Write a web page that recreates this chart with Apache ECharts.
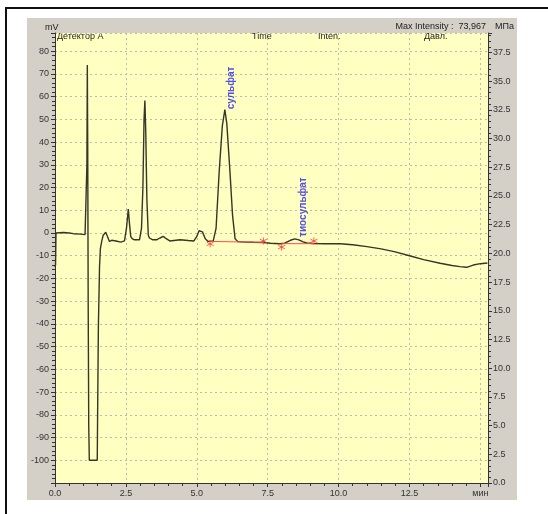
<!DOCTYPE html>
<html>
<head>
<meta charset="utf-8">
<script src="https://cdn.jsdelivr.net/npm/echarts@6/dist/echarts.min.js"></script>
<style>
  html, body { margin:0; padding:0; background:#ffffff; }
  #wrap { position:relative; width:548px; height:514px; overflow:hidden; background:#fff; }
  #frame { position:absolute; left:5px; top:7px; right:0; bottom:0; border-top:2px solid #111; border-left:2px solid #111; }
  #panel { position:absolute; left:27px; top:18px; width:490px; height:482px; background:#d4d0c8; }
  #c { position:absolute; left:0; top:0; width:548px; height:514px; }
</style>
</head>
<body>
<div id="wrap">
  <div id="frame"></div>
  <div id="panel"></div>
  <div id="c"></div>
</div>
<script>
// ---- data (time in min, signal in mV) ----
const chromatogram = [
  [0,-15],[0.02,-14],[0.035,0],[0.1,0.3],[0.3,0.2],[0.5,0],[0.65,-0.3],[0.9,-0.5],[1.06,-0.7],[1.11,-0.7],
  [1.125,30],[1.14,73.9],[1.155,35],[1.17,-30],[1.19,-85],[1.21,-100],[1.23,-100],[1.49,-100],[1.5,-84],[1.53,-41],
  [1.57,-15],[1.6,-7],[1.65,-3.5],[1.7,-1],[1.79,0.3],[1.85,-1.5],[1.92,-3.7],[2.0,-3.2],[2.06,-3],[2.15,-3.5],
  [2.2,-3.7],[2.32,-4],[2.45,-3.5],[2.52,2],[2.585,10.5],[2.62,5],[2.67,-1.5],[2.72,-2.5],[2.8,-3],[2.98,-3],
  [3.05,2],[3.1,20],[3.14,50],[3.17,58.3],[3.2,45],[3.24,15],[3.29,-1],[3.33,-2.2],[3.45,-3],[3.58,-3],
  [3.7,-2.2],[3.82,-1.5],[3.92,-2.5],[4.05,-3.5],[4.41,-3],[4.7,-3.3],[4.9,-3.5],[5.0,-1.5],[5.08,1.0],[5.14,1.5],
  [5.2,0.5],[5.3,-2.5],[5.4,-3.7],[5.47,-4],[5.58,-3.5],[5.68,2],[5.79,27],[5.9,47],[5.99,54.3],[6.06,48],
  [6.17,27],[6.26,8],[6.35,-2.5],[6.45,-3.8],[6.7,-4],[7.0,-4.1],[7.35,-4.2],[7.6,-4.5],[7.93,-4.7],[8.1,-4.5],
  [8.3,-3.2],[8.46,-2.6],[8.6,-3],[8.75,-3.9],[8.88,-4.4],[9.1,-4.6],[9.5,-4.7],[10.05,-4.7],[10.5,-5.2],[11.0,-6],
  [11.5,-7],[12.0,-8.3],[12.5,-10],[13.0,-11.7],[13.58,-13.3],[14.0,-14.3],[14.28,-14.8],[14.52,-15.1],[14.75,-14.1],[15.0,-13.5],
  [15.25,-13.2]
];
const baselineSulfate = [[5.47,-3.7],[7.35,-4.1]];
const baselineThio = [[7.99,-4.7],[9.13,-4.7]];
const peakMarkers = [[5.47,-4.8],[7.35,-3.5],[7.99,-6.2],[9.13,-3.5]];
const peakNames = [[6.22,63.8,'сульфат'],[8.74,11.4,'тиосульфат']];
const headerTexts = ['mV','Детектор A','Time','Inten.','Давл.','Max Intensity :  73,967','МПа'];
const xUnitLabel = 'мин';

const FONT = '"Liberation Sans", Arial, sans-serif';
const chart = echarts.init(document.getElementById('c'), null, {renderer:'canvas', width:548, height:514});

const axisLineStyle = {color:'#333', width:1};
const gridStyle = {color:'#bcbcac', type:[2,3], width:1};
const option = {
  animation:false,
  backgroundColor:'transparent',
  textStyle:{fontFamily:FONT},
  grid:{left:55, top:33, width:433, height:450, show:true, backgroundColor:'#ffffc2', borderWidth:0},
  xAxis:{
    type:'value', min:0, max:15.27, interval:2.5,
    axisLine:{show:true, onZero:false, lineStyle:axisLineStyle},
    axisTick:{show:true, length:4, lineStyle:axisLineStyle},
    minorTick:{show:true, splitNumber:5, length:3, lineStyle:axisLineStyle},
    axisLabel:{showMaxLabel:false, fontSize:9, color:'#333', margin:6, fontFamily:FONT,
      formatter:v => Math.abs(v-15)<1e-6 ? xUnitLabel : v.toFixed(1)},
    splitLine:{show:true, lineStyle:gridStyle}
  },
  yAxis:[{
    type:'value', min:-110, max:88, interval:10, position:'left',
    axisLine:{show:true, onZero:false, lineStyle:axisLineStyle},
    axisTick:{show:true, length:4, lineStyle:axisLineStyle},
    minorTick:{show:true, splitNumber:5, length:3, lineStyle:axisLineStyle},
    axisLabel:{showMinLabel:false, showMaxLabel:false, fontSize:9, color:'#333', margin:6, fontFamily:FONT},
    splitLine:{show:true, lineStyle:gridStyle}
  },{
    type:'value', min:0, max:39.2, interval:2.5, position:'right',
    axisLine:{show:true, onZero:false, lineStyle:axisLineStyle},
    axisTick:{show:true, length:4, lineStyle:axisLineStyle},
    minorTick:{show:true, splitNumber:5, length:3, lineStyle:axisLineStyle},
    axisLabel:{showMaxLabel:false, fontSize:9, color:'#333', margin:5, fontFamily:FONT,
      formatter:v => v.toFixed(1)},
    splitLine:{show:false}
  }],
  graphic:[
    {type:'text', left:45, top:23, style:{text:headerTexts[0], fill:'#222', font:'9px '+FONT}},
    {type:'text', left:57, top:32, style:{text:headerTexts[1], fill:'#222', font:'9px '+FONT}},
    {type:'text', left:252, top:32, style:{text:headerTexts[2], fill:'#222', font:'9px '+FONT}},
    {type:'text', left:318, top:32, style:{text:headerTexts[3], fill:'#222', font:'9px '+FONT}},
    {type:'text', left:424, top:32, style:{text:headerTexts[4], fill:'#222', font:'9px '+FONT}},
    {type:'text', right:62, top:22, style:{text:headerTexts[5], fill:'#222', font:'9px '+FONT}},
    {type:'text', left:495, top:22, style:{text:headerTexts[6], fill:'#222', font:'9px '+FONT}}
  ],
  series:[
    {type:'line', yAxisIndex:0, data:chromatogram, showSymbol:false, symbol:'none',
     lineStyle:{color:'#35352a', width:1.4}, z:3},
    {type:'line', yAxisIndex:0, data:baselineSulfate, symbol:'none', lineStyle:{color:'#ff4a4a', width:1}, z:4},
    {type:'line', yAxisIndex:0, data:baselineThio, symbol:'none', lineStyle:{color:'#ff4a4a', width:1}, z:4},
    {type:'scatter', yAxisIndex:0, data:peakMarkers, symbolSize:7,
     symbol:'path://M5,0L5,10M0.7,2.5L9.3,7.5M9.3,2.5L0.7,7.5',
     itemStyle:{color:'rgba(0,0,0,0)', borderColor:'#ff3a3a', borderWidth:1}, z:5},
    {type:'scatter', yAxisIndex:0, data:peakNames, symbolSize:1,
     itemStyle:{color:'rgba(0,0,0,0)'},
     label:{show:true, position:'inside', rotate:90, align:'center', verticalAlign:'middle',
       formatter:p => p.data[2], color:'#2424e8', fontWeight:'bold', fontSize:10, fontFamily:FONT}, z:6}
  ]
};
chart.setOption(option);
</script>
</body>
</html>
